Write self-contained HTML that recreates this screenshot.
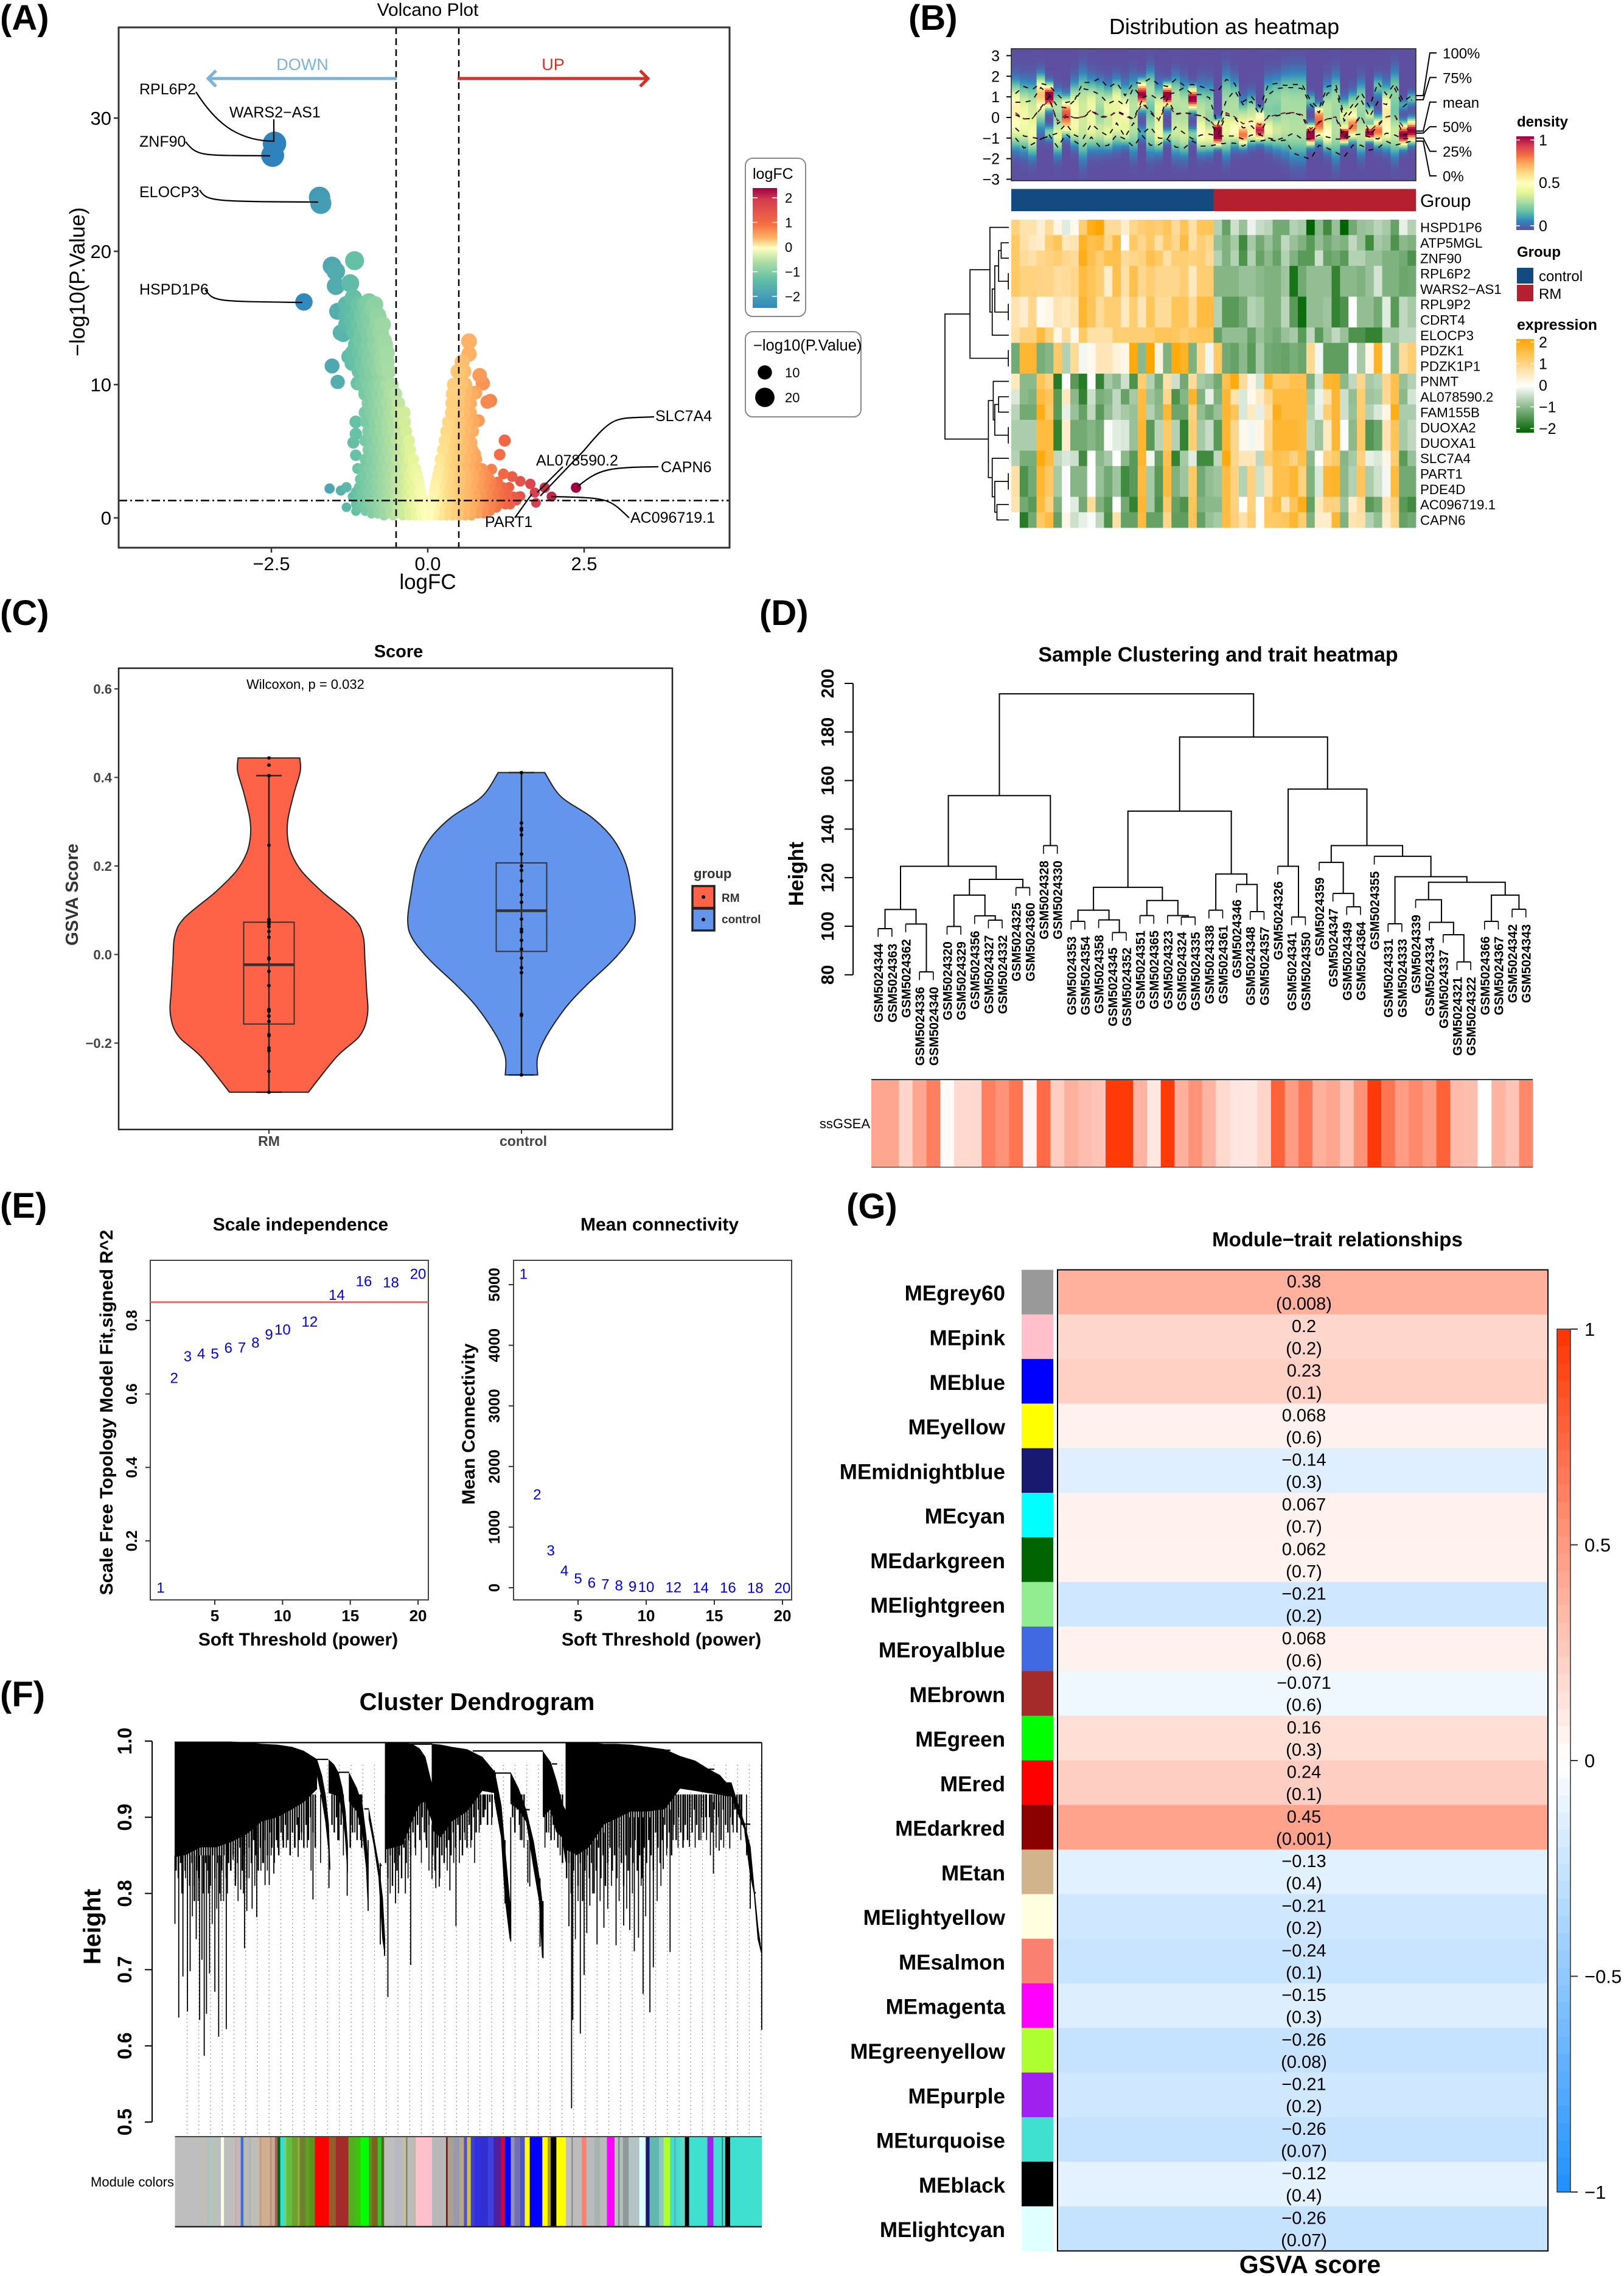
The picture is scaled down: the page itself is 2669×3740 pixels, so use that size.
<!DOCTYPE html>
<html lang="en"><head><meta charset="utf-8"><title>Multi-panel figure</title>
<style>html,body{margin:0;padding:0;background:#fff}svg{display:block;font-family:"Liberation Sans",sans-serif}</style>
</head><body>
<svg id="fig" xmlns="http://www.w3.org/2000/svg" width="2669" height="3740" viewBox="0 0 2669 3740">
<defs>
<linearGradient id="gradLogFC" x1="0" y1="0" x2="0" y2="1"><stop offset="0" stop-color="#9e0142"/><stop offset=".1" stop-color="#d53e4f"/><stop offset=".3" stop-color="#f46d43"/><stop offset=".41" stop-color="#fdae61"/><stop offset=".5" stop-color="#ffffbf"/><stop offset=".62" stop-color="#abdda4"/><stop offset=".75" stop-color="#66c2a5"/><stop offset="1" stop-color="#3288bd"/></linearGradient>
<linearGradient id="gradDensity" x1="0" y1="0" x2="0" y2="1"><stop offset="0" stop-color="#9e0142"/><stop offset=".1" stop-color="#d53e4f"/><stop offset=".2" stop-color="#f46d43"/><stop offset=".3" stop-color="#fdae61"/><stop offset=".4" stop-color="#fee08b"/><stop offset=".5" stop-color="#ffffbf"/><stop offset=".6" stop-color="#e6f598"/><stop offset=".7" stop-color="#abdda4"/><stop offset=".8" stop-color="#66c2a5"/><stop offset=".9" stop-color="#3288bd"/><stop offset="1" stop-color="#5e4fa2"/></linearGradient>
<linearGradient id="gradExpr" x1="0" y1="0" x2="0" y2="1"><stop offset="0" stop-color="#ffa500"/><stop offset=".5" stop-color="#ffffff"/><stop offset="1" stop-color="#006400"/></linearGradient>
</defs>

<g font-size="58" font-weight="bold" fill="#000">
<text x="0" y="49">(A)</text>
<text x="1493" y="49">(B)</text>
<text x="0" y="1027">(C)</text>
<text x="1248" y="1027">(D)</text>
<text x="0" y="2001">(E)</text>
<text x="0" y="2804">(F)</text>
<text x="1391" y="2002">(G)</text>
</g>

<g id="panelA">
<text x="703" y="26" font-size="30" text-anchor="middle">Volcano Plot</text>
<text x="703" y="968" font-size="35" text-anchor="middle">logFC</text>
<text transform="translate(139,463) rotate(-90)" font-size="35" text-anchor="middle">−log10(P.Value)</text>
</g>
<g id="panelB">
<text x="2012" y="56" font-size="36" text-anchor="middle">Distribution as heatmap</text>
<text x="2334" y="340" font-size="30">Group</text>
<text x="2493" y="208" font-size="24" font-weight="bold">density</text>
<rect x="2492" y="224" width="29" height="154" fill="url(#gradDensity)"/>
<text x="2493" y="422" font-size="24" font-weight="bold">Group</text>
<rect x="2493" y="440" width="27" height="26" fill="#134a80"/>
<rect x="2493" y="468" width="27" height="27" fill="#b5202e"/>
<text x="2529" y="462" font-size="24">control</text>
<text x="2529" y="491" font-size="24">RM</text>
<text x="2493" y="542" font-size="25" font-weight="bold">expression</text>
<rect x="2492" y="557" width="29" height="154" fill="url(#gradExpr)"/>
</g>
<g id="panelC">
<text x="655" y="1080" font-size="29" font-weight="bold" text-anchor="middle">Score</text>
<text x="405" y="1132" font-size="22">Wilcoxon, p = 0.032</text>
<text transform="translate(128,1470) rotate(-90)" font-size="29" font-weight="bold" fill="#333" text-anchor="middle">GSVA Score</text>
<text x="1140" y="1443" font-size="22" font-weight="bold" fill="#333">group</text>
</g>
<g id="panelD">
<text x="2002" y="1087" font-size="34" font-weight="bold" text-anchor="middle">Sample Clustering and trait heatmap</text>
<text transform="translate(1320,1436) rotate(-90)" font-size="34" font-weight="bold" text-anchor="middle">Height</text>
<text x="1430" y="1854" font-size="22" text-anchor="end">ssGSEA</text>
</g>
<g id="panelE">
<text x="494" y="2022" font-size="30" font-weight="bold" text-anchor="middle">Scale independence</text>
<text x="1084" y="2022" font-size="30" font-weight="bold" text-anchor="middle">Mean connectivity</text>
<text x="490" y="2704" font-size="30" font-weight="bold" text-anchor="middle">Soft Threshold (power)</text>
<text x="1087" y="2704" font-size="30" font-weight="bold" text-anchor="middle">Soft Threshold (power)</text>
<text transform="translate(185,2321) rotate(-90)" font-size="30" font-weight="bold" text-anchor="middle">Scale Free Topology Model Fit,signed R^2</text>
<text transform="translate(780,2340) rotate(-90)" font-size="30" font-weight="bold" text-anchor="middle">Mean Connectivity</text>
</g>
<g id="panelF">
<text x="784" y="2810" font-size="40" font-weight="bold" text-anchor="middle">Cluster Dendrogram</text>
<text transform="translate(165,3166) rotate(-90)" font-size="40" font-weight="bold" text-anchor="middle">Height</text>
<text x="286" y="3593" font-size="22" text-anchor="end">Module colors</text>
</g>
<g id="panelG">
<text x="2198" y="2048" font-size="33" font-weight="bold" text-anchor="middle">Module−trait relationships</text>
<text x="2153" y="3735" font-size="41" font-weight="bold" text-anchor="middle">GSVA score</text>
</g>
</svg>
<script>
/* ---------- Panel A data ---------- */
const volcanoOutlierLogFC=[-2.45,-2.48,-1.73,-1.71,-1.98,-1.17,-1.53,-1.47,-1.47,-1.24,-1.19,-.94,-1.44,-1.24,-.88,-.79,-1.21,-.99,-1.39,-1.17,-1.08,-.7,-.83,-1.26,-1.53,-1.21,-.94,-1.44,-1.12,-.99,-.72,-.9,-1.05,-.8,-.85,-.95,-.75,-.9,-1.05,-.72,-1.57,-1.39,-1.3,-1.3,-1.15,-1.15,-1.19,-1.15,-1.12,-1.08,-1.15,.66,.66,.5,.54,.83,.88,.76,1,.95,.81,.72,.7,.76,1.23,1.15,1.02,1.21,1.35,1.48,1.64,1.87,1.71,2.37,1.98,1.73,1.48,1.26,1.08,.99];
const volcanoOutlierNegLogP=[28.1,27.2,24.05,23.6,16.2,19.3,18.9,18.5,17.4,17.6,16.5,16.2,15.5,15.6,15.6,15.05,14.8,14.3,13.9,13.9,13.3,13.3,13.1,12.1,11.4,11.6,12,10.2,10.1,10.35,11.2,10.9,11.4,12.5,14,13,12,11.6,13.5,12.2,2.2,2.05,2.3,.8,7.2,6.3,5.65,4.7,3.7,2.9,.5,13.25,12.3,11,10.1,10.7,10.1,9.4,8.8,8.7,7.3,6.5,5.65,4.8,5.8,4.75,3.65,3.3,3.1,2.75,2.55,2.27,1.9,2.27,1.6,1.13,1.63,1.77,2.05,2.9];
const volcanoRowNegLogP=[16,15.2,14.5,13.8,13,12.4,11.7,11,10,9.3,8.6,7.9,7.2,6.5,5.8,5.1,4.4,3.7,3.3,3,2.7,2.3,1.95,1.6,1.3,1,.75,.5,.3,.15];
const volcanoRowLogFC=[
[-1.3,-1.1,-1,-.85],
[-1.3,-1.15,-1.05,-.95,-.8],
[-1.3,-1.1,-1,-.9,-.8,-.72],
[-1.35,-1.15,-1.05,-.95,-.85,-.75],
[-1.15,-1.05,-.95,-.85,-.75,-.68],
[-1.2,-1.1,-1,-.9,-.8,-.7,-.65],
[-1.15,-1.05,-.95,-.85,-.75,-.65,.55],
[-1.1,-1,-.9,-.8,-.7,-.62,.48,.58],
[-1.05,-.95,-.85,-.75,-.65,-.58,.42,.52,.6],
[-1,-.9,-.8,-.7,-.6,-.52,.4,.5,.6,.7],
[-.95,-.85,-.75,-.65,-.55,-.47,.39,.49,.58,.68],
[-1,-.9,-.8,-.7,-.6,-.5,-.42,-.38,.38,.48,.58,.68],
[-.98,-.85,-.75,-.65,-.55,-.45,-.37,.33,.43,.53,.63,.73],
[-.95,-.85,-.75,-.65,-.55,-.45,-.35,.3,.4,.5,.6,.68],
[-1,-.9,-.8,-.7,-.6,-.5,-.4,-.3,.27,.37,.47,.57,.67],
[-.95,-.85,-.75,-.65,-.55,-.45,-.35,-.28,.24,.34,.44,.54,.64,.72],
[-1,-.9,-.8,-.7,-.6,-.5,-.4,-.3,-.23,.2,.3,.4,.5,.6,.7,.78],
[-1.05,-.95,-.85,-.75,-.65,-.55,-.45,-.35,-.25,-.19,.18,.27,.37,.47,.57,.67,.77,.87],
[-1,-.9,-.8,-.7,-.6,-.5,-.4,-.3,-.22,-.17,.16,.24,.32,.42,.52,.62,.72,.82,.92],
[-1,-.9,-.8,-.7,-.6,-.5,-.4,-.3,-.2,-.15,.15,.25,.35,.45,.55,.65,.75,.85,.95],
[-1.05,-.95,-.85,-.75,-.65,-.55,-.45,-.35,-.25,-.14,.13,.22,.32,.42,.52,.62,.72,.82,.92,1.02,1.12],
[-1.1,-1,-.9,-.8,-.7,-.6,-.5,-.4,-.3,-.2,-.12,.11,.2,.3,.4,.5,.6,.7,.8,.9,1,1.1,1.2,1.3],
[-1.15,-1.05,-.95,-.85,-.75,-.65,-.55,-.45,-.35,-.25,-.15,-.1,.1,.16,.25,.35,.45,.55,.65,.75,.85,.95,1.05,1.15,1.25],
[-1.2,-1.1,-1,-.9,-.8,-.7,-.6,-.5,-.4,-.3,-.2,-.09,.08,.17,.27,.37,.47,.57,.67,.77,.87,.97,1.07,1.17,1.27,1.37,1.45],
[-1.15,-1.05,-.95,-.85,-.75,-.65,-.55,-.45,-.35,-.25,-.15,-.07,.07,.14,.22,.32,.42,.52,.62,.72,.82,.92,1.02,1.12,1.22,1.32,1.42],
[-1.15,-1.05,-.95,-.85,-.75,-.65,-.55,-.45,-.35,-.25,-.15,-.06,.06,.14,.24,.34,.44,.54,.64,.74,.84,.94,1.04,1.14,1.24,1.32],
[-1.1,-1,-.9,-.8,-.7,-.6,-.5,-.4,-.3,-.2,-.1,-.05,.05,.12,.2,.3,.4,.5,.6,.7,.8,.9,1,1.1],
[-1,-.9,-.8,-.7,-.6,-.5,-.4,-.3,-.2,-.1,-.04,.04,.1,.2,.3,.4,.5,.6,.7,.8,.9,1],
[-.9,-.8,-.7,-.6,-.5,-.4,-.3,-.2,-.12,-.03,.03,.12,.2,.3,.4,.5,.6,.7,.8,.9],
[-.7,-.55,-.4,-.3,-.2,-.1,-.03,.03,.1,.2,.3,.4,.5,.6,.7]];
const volcanoXTicks=[-2.5,0,2.5];
const volcanoXTickLabels=['−2.5','0.0','2.5'];
const volcanoYTicks=[0,10,20,30];
const logfcLegendTicks=[2,1,0,-1,-2];
const sizeLegendValues=[10,20];
/* ---------- Panel B data ---------- */
const geneNames=['HSPD1P6','ATP5MGL','ZNF90','RPL6P2','WARS2−AS1','RPL9P2','CDRT4','ELOCP3','PDZK1','PDZK1P1','PNMT','AL078590.2','FAM155B','DUOXA2','DUOXA1','SLC7A4','PART1','PDE4D','AC096719.1','CAPN6'];
const exprHSPD1P6=[1,.65,.65,.35,.8,.2,-.25,.15,1.1,1.8,2,.8,.8,.4,.9,1.1,1.2,1.1,1.3,.8,1.3,.7,1.3,1.3,-.6,-1.2,-.4,-.8,-.15,-.45,-.55,-1.1,-1.1,-.6,-.7,-2,-.9,-1.5,-.8,-2,-1.1,-.8,-.75,-.55,-.7,-1.2,-.2,-.6];
const exprATP5MGL=[1.2,.7,.5,.4,1.1,1.3,.5,.6,1.7,1.4,1.5,.9,1.5,.05,1.2,.9,1.2,.7,1.2,.9,1.5,.7,1.1,.9,-.8,-1,-.7,-1.5,-.7,-1.1,-.8,-1.1,-.5,-.8,-1,-1.3,-.85,-1.1,-.9,-1,-.5,-.8,-1.5,-.7,-.8,-1.4,-.9,-1];
const exprZNF90=[1.2,.8,.7,.9,1,1.1,.9,.8,1.8,1.4,1.1,1.4,1.4,.8,.9,1,1.4,1.2,.7,1.1,1.1,1,1.1,.8,-.6,-1,-.6,-1.4,-.6,-1.2,-.9,-1.2,-.6,-1,-1.3,-1.3,-.4,-1.2,-1.1,-1.3,-.6,-.6,-.8,-.8,-1,-1,-1.1,-1.4];
const exprRPL6P2=[1.2,1,1,.95,.95,.75,.8,.9,1.5,1.3,1.1,.4,1.4,.7,1.4,.9,1.1,.9,.9,.9,1.1,.5,1.1,1.1,-.95,-.95,-.95,-.8,-.8,-.9,-1,-1,-.75,-1.8,-1.1,-.85,-.85,-.85,-1.6,-.9,-.9,-1,-.8,-.35,-1,-1,-1.15,-1.1];
const exprRPL9P2=[.6,.4,.9,.1,.2,.6,.5,.65,1.6,1.3,.8,1.1,1.1,.5,1.1,.55,1.3,.8,.8,1.3,1.3,.8,1.5,1.5,-.6,-1.3,-1.3,-1.1,-.6,-.7,-1,-1,-.55,-1.3,-1.9,-.85,-.85,-.75,-1.6,-1.4,0,-.85,-.85,-1.1,-.25,-1.3,-.5,-.7];
const exprELOCP3=[.7,1,1,1.5,1,.2,.8,.15,1.2,.7,.7,.7,1.1,1.1,1.1,1.1,1.1,1.3,1.3,1.25,1.1,1.25,1.3,1.3,-1.2,-.85,-.85,-.85,-1.2,-.8,-1,-1.1,-.8,-.7,-1.3,-.5,-1.3,-.8,-.5,-.8,-1.4,-1.4,-1.6,-1.6,-.7,-.7,-.5,-.5];
const exprPDZK1=[-1.1,1.6,1.6,-1.05,-.95,1.2,-.6,.8,-.1,.15,.55,.55,.3,.2,1.9,-.9,2,.25,-1,1.9,1.7,-1,.9,-.1,1.2,-1.1,-1.2,-.9,-1.3,-.7,-1.1,-1.15,-1.2,-1.05,-1.15,.85,-.1,-1.25,-1.25,-1.25,0,-.7,.2,1.7,-.05,-.9,.8,1.1];
const exprPNMT=[.5,-.9,-.9,1.3,1,-1.7,0,-1.3,-1.7,0,-1.6,-.7,-.9,-.4,-1.4,1.1,-.6,-1.1,.7,-.4,-1.1,.8,-.7,-.8,-1.1,1.4,1.9,.8,.2,-.35,1.6,1.2,1.2,1.4,1.4,-1,-.35,1.6,1.7,-.9,-.5,.9,-.7,-.6,.9,1.4,-.8,-.6];
const exprAL078590=[-.3,-.9,-1,1.5,1.3,-1.3,.5,-.9,-1.6,-.4,-1.05,-.95,-.5,-1.2,-.7,1.5,-.75,-.95,.9,-1.4,-.95,1.7,-1,-.2,-1,1.6,.65,-.3,.15,.45,.9,1.5,1.5,1.5,1.5,-.7,-.15,.7,1.6,-.4,-.85,1.1,-.75,-.7,.85,1.4,-.9,-.35];
const exprFAM155B=[-.55,-1.1,-1.1,1.8,1.2,-1.3,-.2,-.8,-1.2,-.5,-1.3,-.85,-.5,-.7,-.8,1.5,-.6,-.9,1.6,-1.15,-1.15,1,-.85,-1.1,-.8,1.6,1.3,-.3,.5,-.2,.7,1.8,1.5,1.5,1.5,-.6,-.2,1.1,1.6,-.4,-.8,1.1,-.6,-.3,.2,1.8,-.65,-.65];
const exprDUOXA=[-.65,-.65,-.65,1.5,1.5,-1.6,.4,-1.1,-1.1,-.95,-1.1,-.05,-.25,-.3,-.8,1.6,-1.3,-.55,1.2,-.6,-1.6,1.1,-.7,-.45,-1.3,1.6,.9,.15,-.1,.2,.9,1.6,1.6,1.6,1.5,-.5,-.75,.5,1.6,-.05,-.9,1.2,-1.35,-1.15,.6,1.3,-.7,-.5];
const exprSLC7A4=[-.6,-1.05,-1.05,1.9,1.5,-.5,-.3,-.4,-1.5,.05,-.9,-.7,0,-.9,-1.3,1.6,-.1,-1.2,1.4,-1.6,-.7,-.25,-1.5,-1.5,-.5,1.9,.9,.55,.55,-.5,1.1,1.4,1.3,1,1.4,-.9,.05,1,1.2,-.95,-.7,1,-.2,-.3,.2,1.1,-1.3,-.8];
const exprPART1=[.7,-1.4,-1.1,1.6,1.2,-.7,-.05,-.95,-.95,0,-.8,-1.1,-.75,-1.5,-1.3,1.5,-.7,-1.3,1.5,-1,-.75,1.2,-1.1,-.85,-.75,1.5,1,-.6,1,-.4,.6,1.4,1.4,1.6,1,-1,-.3,1.6,1.7,-.9,-.6,1.3,-.65,-.4,-.1,1.5,-1.1,-1.1];
const exprAC096719=[.6,-1.1,-1.3,1.5,1,-1,0,-.25,-1.1,.8,-1,-1.3,0,-1.1,-1.6,1.6,-.7,-1.4,1.2,-1.2,-1.4,1.3,-1,-.9,-.9,1.5,1,.05,1,0,1.2,1.5,.6,1.3,1.8,-1.2,.5,1,1,-.75,.4,.8,-1.3,-1.1,.6,1,-1.3,-1.5];
const exprCAPN6=[0,-1.7,-1.1,1.2,1.5,-1.2,.2,-.4,-.2,-.05,-.5,-1.4,.7,-1.2,-1.2,1.5,-1.2,-1.2,.9,-1.25,-1.25,1.3,-1.2,-.8,-.7,1.5,1.05,.7,1.1,.05,1.2,1.2,1.3,1.6,1.1,-1,.4,.4,1.6,-1,.6,.7,-.6,-.85,.4,.9,-1.2,-1.1];
const exprRows=[exprHSPD1P6,exprATP5MGL,exprZNF90,exprRPL6P2,exprRPL6P2,exprRPL9P2,exprRPL9P2,exprELOCP3,exprPDZK1,exprPDZK1,exprPNMT,exprAL078590,exprFAM155B,exprDUOXA,exprDUOXA,exprSLC7A4,exprPART1,exprPART1,exprAC096719,exprCAPN6];
const geneTree=[5,[3.04,[1.48,0,[1.3,[1.1,[.8,[.6,1,2],[.04,3,4]],[.04,5,6]],7]],[.04,8,9]],[1.6,[1.22,10,[1.1,[.8,11,12],[.04,13,14]]],[1.3,15,[1.1,[.04,16,17],[.93,18,19]]]]];
const quant100=[1.16,1.5,1.36,1.65,1.55,1.11,.72,.82,1.7,1.7,1.9,1.45,1.7,1.06,1.7,1.65,1.9,1.6,1.5,1.85,1.55,1.6,1.5,1.36,1.26,1.85,1.65,.77,1.01,.52,1.6,1.65,1.55,1.6,1.6,.82,.42,1.5,1.6,.08,.62,1.21,.52,1.7,1.11,1.65,.77,1.06];
const quant75=[.74,.74,.82,1.45,1.11,.52,.47,.82,1.4,1.31,1.11,.67,.86,.57,1.45,.96,1.11,.86,1.11,1.21,1.45,1.11,1.11,.96,-.36,.82,1.31,.62,.77,.13,1.11,1.4,1.45,1.45,1.4,.62,.23,1.16,1.36,-.17,.37,.86,.03,.77,.62,1.4,.52,.86];
const quantMean=[.23,-.07,-.05,.42,.86,-.17,.13,-.02,.03,.37,.08,.03,.27,.08,-.12,.67,.32,-.12,.67,.13,.23,.13,.08,-.12,-.56,.23,.03,-.31,-.17,-.36,.03,.13,.23,.23,.13,-.56,-.27,-.07,.03,-.76,-.41,.03,-.66,-.31,.03,.08,-.46,-.66];
const quant50=[.13,-.07,-.05,.47,1.01,-.31,.03,-.02,-.02,.32,.03,.01,.32,.13,-.07,.82,.23,-.15,.91,.18,.23,.18,.08,-.17,-.85,.13,-.02,-.51,-.41,-.85,.08,.08,.18,.23,.08,-.85,-.22,-.07,-.02,-1,-.36,.08,-.85,-.41,.03,.13,-.85,-.76];
const quant25=[-.51,-.9,-.97,-1.05,-.9,-.76,-.31,-.85,-1.05,-.31,-.66,-.9,-.27,-.95,-.27,-.81,-.46,-1,-1.05,-.46,-.76,-1.05,-.85,-.81,-.9,-.9,-.9,-1.05,-.85,-.85,-1,-1.1,-.95,-.76,-1.05,-1.05,-.85,-.95,-1.05,-1.05,-.85,-.81,-.95,-1.05,-.76,-.85,-1.05,-1];
const quant0=[-1,-1.49,-1.3,-1.05,-.85,-1.44,-.81,-1.15,-1.42,-.95,-1.42,-1.35,-.85,-1.05,-1.42,-.85,-1.35,-1.33,-1.05,-1.44,-1.49,-1.15,-1.39,-1.39,-1.3,-1.25,-1.25,-1.39,-1.15,-1.15,-1.07,-1.15,-1.1,-1.74,-1.89,-2.03,-1.35,-1.49,-1.69,-1.92,-1.35,-1.35,-1.59,-1.49,-1.15,-1.35,-1.25,-1.15];
const lobeACenter=[.62,.62,.62,1.21,1.03,.62,.23,.52,.91,.72,.91,.52,.91,.32,.82,1.11,1.31,.52,1.06,1.01,.72,.91,.52,.52,-.66,1.01,.72,-.07,.32,-.61,.82,1.01,1.01,1.01,1.01,-.85,-.36,.52,1.01,-.85,-.46,.72,-.76,-.66,.32,1.21,-.85,-.66];
const lobeAPeak=[.5,.35,.32,.55,1.15,.3,.8,.45,.3,.4,.3,.4,.4,.5,.28,1,.3,.4,1.1,.3,.3,1.05,.3,.28,1.15,.25,.3,.35,.3,.95,.25,.25,.27,.25,.25,1.15,.8,.32,.25,1.15,.75,.28,1.1,.8,.55,.25,1.05,1.05];
const lobeASpread=[.59,.59,.59,.44,.29,.39,.39,.59,.69,.59,.49,.54,.49,.59,.59,.34,.54,.54,.28,.54,.54,.28,.59,.59,.25,.64,.59,.49,.44,.28,.59,.54,.64,.69,.69,.25,.39,.59,.59,.2,.34,.54,.18,.34,.59,.59,.29,.28];
const lobeBCenter=[-.66,-.66,-.85,.32,-.76,-.85,-.46,-.66,-.76,-.66,-.66,-.85,-.46,-.85,-.66,-.76,-.66,-.85,-.9,-.66,-.85,-.85,-.85,-.95,-1.15,-.66,-.66,-.9,-.66,.13,-.66,-.66,-.66,-.76,-.76,.82,.23,-.85,-.76,.13,.52,-.85,.13,1.5,-.85,-.76,.62,.91];
const lobeBPeak=[.33,.35,.4,.25,.25,.4,.3,.3,.3,.35,.35,.35,.4,.25,.28,.15,.3,.4,.3,.35,.35,.25,.45,.4,.5,.4,.45,.65,.5,.4,.42,.35,.3,.28,.28,.2,.3,.45,.3,.4,.3,.33,.35,.2,.3,.35,.15,.2];
const lobeBSpread=[.49,.54,.54,.54,.2,.49,.29,.39,.69,.49,.49,.39,.49,.29,.59,.2,.59,.44,.18,.59,.54,.2,.44,.39,.18,.59,.39,.28,.34,.18,.39,.49,.59,.69,.69,.2,.2,.39,.69,.39,.39,.49,.25,.29,.39,.59,.15,.18];
const densityYTicks=[3,2,1,0,-1,-2,-3];
const quantileLabels=['100%','75%','mean','50%','25%','0%'];
const densityLegendTicks=['1','0.5','0'];
const exprLegendTicks=['2','1','0','−1','−2'];
/* ---------- Panel C data ---------- */
const rmViolinValue=[.444,.414,.366,.309,.269,.229,.188,.14,.083,.043,-.014,-.078,-.135,-.183,-.231,-.311];
const rmViolinDensity=[.313,.318,.256,.195,.187,.226,.333,.549,.856,.954,.974,.99,1,.923,.687,.4];
const controlViolinValue=[.411,.357,.309,.26,.204,.14,.075,.035,-.014,-.07,-.119,-.183,-.231,-.272];
const controlViolinDensity=[.236,.4,.718,.933,1.06,1.118,1.154,1.103,.923,.656,.451,.256,.164,.164];
const rmBox=[-.157,-.023,.073];
const rmWhisker=[-.311,.404];
const controlBox=[.007,.099,.207];
const controlWhisker=[-.272,.411];
const rmScores=[.444,.428,.404,.247,.079,.075,.069,.063,.052,.039,-.008,-.01,-.038,-.07,-.124,-.128,-.139,-.151,-.181,-.183,-.211,-.217,-.264,-.311];
const controlScores=[.411,.297,.285,.281,.27,.227,.2,.19,.166,.135,.118,.08,.057,.051,.032,.012,-.008,-.03,-.041,-.135,-.138,-.272];
const violinYTicks=[.6,.4,.2,0,-.2];
const violinYLabels=['0.6','0.4','0.2','0.0','−0.2'];
/* ---------- Panel D data ---------- */
const sampleIds=[44,63,62,36,40,20,29,56,27,32,25,60,28,30,53,54,58,45,52,51,65,23,24,35,38,61,46,48,57,26,41,50,59,47,49,64,55,31,33,39,34,37,21,22,66,67,42,43];
const sampleTree=[195.7,[153.8,[124.7,[106.9,[99,0,1],[100.9,2,[81.2,3,4]]],[119.3,[112.8,[99.9,5,6],[104.3,7,[102.5,8,9]]],[115.9,10,11]]],[133.2,12,13]],[177.9,[147.4,[116,[106.6,[102,14,15],[102.6,16,[97.4,17,18]]],[110.6,[104.4,19,20],[104.4,21,[103.8,22,23]]]],[121.5,[106.6,24,25],[117.2,26,[106,27,28]]]],[156.5,[124.7,29,[103.8,30,31]],[133.2,[126.3,32,[113.5,33,[108,34,35]]],[128.8,36,[120.4,[101,37,38],[118.1,[110.9,39,[101.6,40,[96.5,41,[85.3,42,43]]]],[112.8,[102,44,45],[107,46,47]]]]]]]]];
const ssgseaValues=[.45,.45,.22,.45,.65,.03,.2,.2,.65,.55,.7,.05,.75,.25,.4,.33,.3,1,1,.38,.12,1,.4,.55,.38,.2,.13,.12,.22,.8,.5,.7,.4,.45,.3,.55,1,.7,.5,.6,.5,.8,.35,.33,0,.38,.3,.6];
const clusterYTicks=[200,180,160,140,120,100,80];
/* ---------- Panel E data ---------- */
const powers=[1,2,3,4,5,6,7,8,9,10,12,14,16,18,20];
const scaleFit=[.074,.645,.704,.711,.711,.727,.728,.741,.763,.777,.798,.871,.908,.905,.928];
const meanConnectivity=[5185,1544,620,292,159,92,67,46,31,20,15,10,8,6,5];
const powerTicks=[5,10,15,20];
const fitTicks=[.2,.4,.6,.8];
const connectivityTicks=[0,1000,2000,3000,4000,5000];
const fitCutoff=.85;
/* ---------- Panel F data ---------- */
const dendroBlockRank=[[12,40,80,120,160,200,240,280,320,350,385],[385,398,408,416,420],[417,430,442,452,460,466],[470,490,505,515,520],[522,535,548,558,564],[565,590,610,635,655,670,688],[688,710,740,780,820,855],[852,870,880,893],[895,915,935],[935,955,970,978],[980,1000,1015,1030,1040],[1040,1070,1100,1140,1170,1210,1255,1300,1340,1380,1415],[1415,1445,1462,1475,1490,1510],[1510,1525,1535,1545,1555]];
const dendroBlockTop=[[.999,.999,.999,.999,.999,.998,.996,.995,.992,.987,.976],[.976,.955,.928,.891,.831],[.975,.969,.958,.938,.908,.864],[.958,.938,.915,.874,.834],[.91,.874,.837,.794,.74],[.998,.998,.998,.996,.99,.979,.942],[.996,.995,.992,.989,.979,.958],[.962,.915,.858,.787],[.958,.938,.91],[.91,.868,.821,.787],[.986,.972,.948,.918,.908],[.998,.998,.998,.996,.996,.995,.992,.989,.98,.974,.963],[.963,.955,.945,.945,.921,.891],[.891,.861,.807,.757,.72]];
const dendroBlockBottom=[[.848,.851,.861,.861,.868,.878,.895,.9,.911,.92,.937],[.958,.925,.895,.858,.831],[.932,.93,.928,.908,.874,.827],[.921,.908,.881,.834,.78],[.898,.864,.821,.74,.72],[.858,.861,.864,.895,.918,.921,.895],[.884,.874,.895,.908,.935,.932],[.925,.874,.794,.74],[.918,.911,.895],[.898,.834,.79,.716],[.901,.911,.881,.874,.841],[.858,.851,.861,.891,.898,.908,.908,.911,.938,.935,.932],[.932,.93,.928,.928,.908,.884],[.881,.824,.8,.74,.72]];
const mergeRankFrom=[12,385,442,510,550,795,855,935,1003,1415,1460,1510,1300,630];
const mergeRankTo=[1555,415,470,522,556,980,895,945,1017,1430,1475,1525,1315,688];
const mergeHeight=[.998,.976,.959,.911,.837,.987,.958,.91,.97,.963,.945,.891,.988,.996];
const spikeRank=[12,22,33,45,52,68,77,83,89,95,103,117,127,133,147,165,185,195,201,215,227,249,260,272,336,375,417,465,520,552,563,572,592,618,632,688,698,707,735,751,880,895,940,945,972,980,1048,1055,1058,1078,1088,1095,1103,1122,1140,1172,1192,1208,1220,1231,1243,1261,1270,1296,1314,1365,1428,1443,1471,1525,1538,1555];
const spikeEnd=[.76,.637,.691,.645,.698,.74,.634,.713,.587,.642,.695,.671,.612,.79,.622,.844,.805,.728,.777,.78,.769,.811,.811,.826,.848,.792,.807,.797,.777,.733,.718,.664,.787,.8,.706,.819,.807,.809,.804,.757,.787,.737,.814,.809,.73,.715,.757,.518,.634,.616,.693,.748,.784,.733,.755,.732,.758,.752,.724,.742,.668,.644,.703,.832,.723,.861,.826,.856,.859,.78,.802,.621];
const spikeStart=[.85,.85,.85,.85,.85,.85,.85,.85,.85,.85,.85,.85,.85,.85,.85,.87,.88,.88,.88,.9,.9,.9,.9,.9,.9,.92,.86,.87,.87,.84,.74,.86,.87,.87,.87,.89,.89,.89,.9,.9,.87,.9,.87,.87,.82,.79,.86,.86,.86,.86,.86,.86,.86,.87,.88,.9,.9,.9,.9,.9,.9,.9,.9,.9,.91,.93,.92,.92,.93,.86,.8,.998];
const minorSpikeRank=[30,40,58,62,73,100,110,122,140,150,158,172,178,192,207,222,238,245,255,265,282,295,305,315,328,345,360,370,395,440,455,475,485,500,578,600,625,645,660,672,680,720,728,745,760,775,790,800,812,825,845,905,920,930,985,995,1010,1025,1065,1072,1110,1130,1150,1160,1180,1200,1215,1238,1250,1280,1290,1305,1322,1335,1350,1380,1395,1410,1420,1435,1455,1480,1500,1515];
const minorSpikeEnd=[.8,.82,.77,.81,.79,.8,.76,.78,.79,.8,.83,.82,.79,.8,.82,.81,.83,.84,.83,.85,.86,.87,.86,.87,.86,.87,.86,.83,.84,.87,.85,.89,.88,.87,.8,.8,.82,.85,.84,.87,.83,.84,.83,.84,.84,.87,.86,.84,.88,.9,.89,.89,.87,.86,.86,.88,.87,.85,.74,.79,.8,.79,.78,.81,.79,.78,.8,.81,.77,.79,.81,.85,.87,.86,.87,.86,.87,.87,.85,.86,.86,.88,.87,.85];
const raggedLeftRank=[15,21,27,33,39,45,51,57,63,69,75,81,87,93,99,105,111,117,123,129,135,141,147,153,159,165,171,177,183,189,195,201,207,213,219,225,231,237,243,249,255,261,267,273,279,285,291,297,303,309,315,321,327,333,339,345,351,357,363,369,375,381];
const raggedLeftEnd=[.83,.82,.84,.8,.83,.85,.81,.84,.79,.83,.82,.85,.8,.84,.83,.81,.85,.82,.84,.8,.83,.85,.82,.84,.83,.85,.81,.84,.86,.83,.85,.82,.86,.84,.87,.85,.83,.86,.84,.87,.85,.88,.86,.84,.87,.85,.88,.86,.89,.87,.85,.88,.86,.89,.87,.88,.86,.89,.87,.9,.88,.86];
const raggedMidRank=[425,431,437,443,449,473,479,491,497,503,566,572,578,584,590,596,602,608,614,620,626,632,638,644,650,656,662,668,674,680,690,696,702,708,714,720,726,732,738,744,750,756,762,768,774,780,786,792,798,804,810,816,822,828,834,840,846,900,906,912,918,924,930,983,989,995,1001,1007,1013,1019,1025,1031];
const raggedMidEnd=[.89,.88,.9,.87,.89,.86,.88,.87,.89,.86,.84,.82,.85,.81,.84,.83,.85,.82,.86,.84,.87,.85,.88,.86,.89,.87,.9,.88,.86,.89,.85,.83,.86,.82,.85,.84,.86,.87,.85,.88,.86,.89,.87,.85,.88,.86,.89,.87,.9,.88,.91,.89,.9,.91,.89,.92,.9,.9,.88,.91,.89,.87,.9,.9,.88,.91,.87,.89,.9,.86,.88,.84];
const raggedRightRank=[1042,1048,1054,1060,1066,1072,1078,1084,1090,1096,1102,1108,1114,1120,1126,1132,1138,1144,1150,1156,1162,1168,1174,1180,1186,1192,1198,1204,1210,1216,1222,1228,1234,1240,1246,1252,1258,1264,1270,1276,1282,1288,1294,1300,1306,1312,1318,1324,1330,1336,1342,1348,1354,1360,1366,1372,1378,1384,1390,1396,1402,1408,1418,1424,1430,1436,1442,1448,1454,1460,1466,1472,1478,1484,1490,1496,1502];
const raggedRightEnd=[.82,.84,.8,.83,.85,.81,.84,.79,.83,.85,.82,.84,.8,.83,.86,.82,.85,.81,.84,.86,.83,.85,.82,.86,.84,.81,.85,.83,.86,.84,.87,.83,.85,.82,.86,.84,.87,.85,.83,.88,.86,.84,.87,.89,.86,.88,.85,.89,.87,.9,.88,.86,.89,.87,.9,.88,.91,.89,.87,.9,.88,.9,.9,.88,.91,.89,.9,.87,.91,.89,.88,.9,.89,.91,.88,.9,.89];
const moduleStripStart=[12,85,88,98,101,112,114,133,141,170,173,185,192,195,207,212,234,240,262,266,275,282,289,299,305,320,335,340,355,365,380,417,435,468,485,500,522,530,545,555,562,590,612,620,623,640,645,688,725,729,745,760,772,780,790,800,815,835,850,870,880,895,905,920,932,945,978,992,1000,1015,1040,1055,1058,1082,1094,1115,1130,1148,1168,1178,1181,1190,1205,1233,1250,1260,1285,1297,1314,1325,1329,1340,1353,1364,1412,1428,1450,1453,1459,1472];
const moduleStripColor=['#bebebe','#c8bfa0','#bebebe','#b0c0b0','#aec4c8','#d0c090','#b8c0c4','#ffffe0','#bebebe','#e0a0a0','#c0b8b8','#4169e1','#a0c0a0','#bcb8b8','#a8b8b0','#c0bcb8','#c8a080','#d0ae90','#b89080','#c8a890','#a06060','#006400','#30e0e0','#80d060','#60c040','#70a030','#90b040','#708030','#60a020','#609020','#ff0000','#90602a','#a52a2a','#50b020','#40c010','#00ff00','#609020','#806020','#20d020','#606020','#bebebe','#b8b8c0','#c8c090','#707070','#bcbcbc','#c0b8a0','#ffc0cb','#b8b8b8','#8b0000','#a8a090','#9898b0','#b8a880','#5050d0','#d0c040','#4040c0','#3030e0','#3030d0','#4040e0','#5020a0','#e00030','#0000ff','#9090c0','#7070b0','#5050d0','#ffff00','#0000ff','#ffff00','#b0a000','#000000','#ffff00','#c0c0c0','#808080','#bcbcbc','#fa8072','#b8bcbc','#a8b4b0','#b8bcbc','#ff00ff','#b8c0c0','#708080','#b0c0c0','#909898','#b4c4c4','#e0ffff','#191970','#60b8b0','#8ec8c0','#adff2f','#40e0d0','#60b0a8','#40e0d0','#60d8c8','#000000','#40e0d0','#a020f0','#40e0d0','#308080','#40e0d0','#000000','#40e0d0'];
const dendroYTicks=[1,.9,.8,.7,.6,.5];
/* ---------- Panel G data ---------- */
const moduleNames=['MEgrey60','MEpink','MEblue','MEyellow','MEmidnightblue','MEcyan','MEdarkgreen','MElightgreen','MEroyalblue','MEbrown','MEgreen','MEred','MEdarkred','MEtan','MElightyellow','MEsalmon','MEmagenta','MEgreenyellow','MEpurple','MEturquoise','MEblack','MElightcyan'];
const moduleColors=['#999999','#ffc0cb','#0000ff','#ffff00','#191970','#00ffff','#006400','#90ee90','#4169e1','#a52a2a','#00ff00','#ff0000','#8b0000','#d2b48c','#ffffe0','#fa8072','#ff00ff','#adff2f','#a020f0','#40e0d0','#000000','#e0ffff'];
const moduleCor=[.38,.2,.23,.068,-.14,.067,.062,-.21,.068,-.071,.16,.24,.45,-.13,-.21,-.24,-.15,-.26,-.21,-.26,-.12,-.26];
const modulePval=['0.008','0.2','0.1','0.6','0.3','0.7','0.7','0.2','0.6','0.6','0.3','0.1','0.001','0.4','0.2','0.1','0.3','0.08','0.2','0.07','0.4','0.07'];
const corBarTicks=[1,.5,0,-.5,-1];
const corBarLabels=['1','0.5','0','−0.5','−1'];

/* ---------- helpers ---------- */
const NS='http://www.w3.org/2000/svg';
function mk(parent,tag,attrs,name){
  const el=document.createElementNS(NS,tag);
  for(const k in attrs) el.setAttribute(k,attrs[k]);
  
  
  parent.appendChild(el);
  return el;
}
function txt(parent,x,y,s,size,name,opt){
  opt=opt||{};
  const a={x:x,y:y,'font-size':size,'text-anchor':opt.anchor||'start',fill:opt.fill||'#000'};
  if(opt.weight) a['font-weight']=opt.weight;
  if(opt.rot!==undefined){a.transform='rotate('+opt.rot+' '+x+' '+y+')';}
  const el=mk(parent,'text',a,name);
  el.textContent=s;
  return el;
}
function line(parent,x1,y1,x2,y2,stroke,w,name,dash){
  const a={x1:x1,y1:y1,x2:x2,y2:y2,stroke:stroke,'stroke-width':w};
  if(dash) a['stroke-dasharray']=dash;
  return mk(parent,'line',a,name);
}
function path(parent,d,stroke,w,name,fill){
  return mk(parent,'path',{d:d,stroke:stroke,'stroke-width':w,fill:fill||'none'},name);
}
function hex(c){return [parseInt(c.slice(1,3),16),parseInt(c.slice(3,5),16),parseInt(c.slice(5,7),16)];}
function ramp(stops,cols,v){
  if(v<=stops[0]) return cols[0];
  for(let i=1;i<stops.length;i++){
    if(v<=stops[i]){
      const t=(v-stops[i-1])/(stops[i]-stops[i-1]),a=hex(cols[i-1]),b=hex(cols[i]);
      return 'rgb('+Math.round(a[0]+(b[0]-a[0])*t)+','+Math.round(a[1]+(b[1]-a[1])*t)+','+Math.round(a[2]+(b[2]-a[2])*t)+')';
    }
  }
  return cols[cols.length-1];
}
function smooth(pts){
  let d='M'+pts[0][0]+' '+pts[0][1];
  for(let i=0;i<pts.length-1;i++){
    const p0=pts[Math.max(0,i-1)],p1=pts[i],p2=pts[i+1],p3=pts[Math.min(pts.length-1,i+2)];
    d+=' C'+(p1[0]+(p2[0]-p0[0])/6).toFixed(1)+' '+(p1[1]+(p2[1]-p0[1])/6).toFixed(1)+','+(p2[0]-(p3[0]-p1[0])/6).toFixed(1)+' '+(p2[1]-(p3[1]-p1[1])/6).toFixed(1)+','+p2[0].toFixed(1)+' '+p2[1].toFixed(1);
  }
  return d;
}
const gA=document.getElementById('panelA'),gB=document.getElementById('panelB'),gC=document.getElementById('panelC'),gD=document.getElementById('panelD'),gE=document.getElementById('panelE'),gF=document.getElementById('panelF'),gG=document.getElementById('panelG');

/* ---------- Panel A ---------- */
(function(){
  const xS=v=>703+v*102.8, yS=v=>851-v*21.9, rS=v=>7.5+.42*v;
  const col=v=>ramp([-2.5,-2,-1.15,-.6,-.25,0,.25,.7,1.15,1.75,2.37],['#2f82bd','#3288bd','#66c2a5','#abdda4','#e6f598','#ffffbf','#fee08b','#fdae61','#f46d43','#d53e4f','#9e0142'],v);
  const pts=[];
  volcanoOutlierLogFC.forEach((x,i)=>pts.push([x,volcanoOutlierNegLogP[i]]));
  volcanoRowLogFC.forEach((row,i)=>row.forEach(x=>pts.push([x,volcanoRowNegLogP[i]])));
  pts.sort((a,b)=>Math.abs(b[0])-Math.abs(a[0]));
  pts.forEach(p=>{
    mk(gA,'circle',{cx:xS(p[0]),cy:yS(p[1]),r:rS(p[1]),fill:col(p[0])},'volcano-point');
  });
  line(gA,651,45,651,900,'#000',2.5,'threshold-line-down','11 7');
  line(gA,754,45,754,900,'#000',2.5,'threshold-line-up','11 7');
  line(gA,195,yS(1.3),1199,yS(1.3),'#000',2.5,'p-value-threshold-line','14 5 3 5');
  mk(gA,'rect',{x:195,y:45,width:1004,height:855,fill:'none',stroke:'#333','stroke-width':3},'volcano-plot-border');
  volcanoXTicks.forEach((t,i)=>{
    line(gA,xS(t),900,xS(t),908,'#333',2.5,'volcano-x-tick');
    txt(gA,xS(t),937,volcanoXTickLabels[i],31,'volcano-x-tick-label',{anchor:'middle'});
  });
  volcanoYTicks.forEach(t=>{
    line(gA,187,yS(t),195,yS(t),'#333',2.5,'volcano-y-tick');
    txt(gA,183,yS(t)+11,String(t),31,'volcano-y-tick-label',{anchor:'end'});
  });
  path(gA,'M652 129H342 M355 116L342 129L355 142','#7ab2d9',5,'down-arrow');
  txt(gA,497,115,'DOWN',27,'down-label',{anchor:'middle',fill:'#7ab2d9'});
  path(gA,'M752 129H1063 M1052 116L1065 129L1052 142','#d73027',5,'up-arrow');
  txt(gA,909,115,'UP',27,'up-label',{anchor:'middle',fill:'#d73027'});
  [['RPL6P2',229,155,'M322 151C350 195 385 232 451 232'],['WARS2−AS1',377,193,'M450 196V231'],['ZNF90',229,241,'M305 233C325 258 330 255 444 256'],['ELOCP3',229,324,'M328 312C340 331 345 331 523 332'],['HSPD1P6',229,484,'M337 476C352 496 352 495 497 497'],['SLC7A4',1077,692,'M1075 685C1010 688 1010 680 960 740L888 815'],['AL078590.2',881,765,'M925 767L883 809'],['CAPN6',1086,776,'M1082 767C1000 768 985 770 950 799'],['AC096719.1',1036,859,'M906 816C1000 818 1000 818 1034 851'],['PART1',797,866,'M874 812L846 851']].forEach(a=>{
    txt(gA,a[1],a[2],a[0],25,'gene-label-'+a[0]);
    path(gA,a[3],'#000',2.2,'gene-connector-'+a[0]);
  });
  mk(gA,'rect',{x:1225,y:260,width:99,height:260,rx:12,fill:'#fff',stroke:'#888','stroke-width':2},'logfc-legend-box');
  txt(gA,1237,294,'logFC',25,'logfc-legend-title');
  mk(gA,'rect',{x:1237,y:309,width:40,height:197,fill:'url(#gradLogFC)'},'logfc-colorbar');
  logfcLegendTicks.forEach(t=>{
    const y=406-t*40.5;
    line(gA,1237,y,1245,y,'#fff',1.5,'logfc-legend-tick');
    line(gA,1269,y,1277,y,'#fff',1.5,'logfc-legend-tick');
    txt(gA,1290,y+8,t<0?'−'+(-t):String(t),22,'logfc-legend-label');
  });
  mk(gA,'rect',{x:1225,y:545,width:190,height:140,rx:12,fill:'#fff',stroke:'#888','stroke-width':2},'size-legend-box');
  txt(gA,1238,576,'−log10(P.Value)',25.5,'size-legend-title');
  sizeLegendValues.forEach((v,i)=>{
    mk(gA,'circle',{cx:1257,cy:612+i*41,r:rS(v),fill:'#000'},'size-legend-dot');
    txt(gA,1290,620+i*41,String(v),22,'size-legend-label');
  });
})();

/* ---------- Panel B ---------- */
(function(){
  const L=1662,W=665,cw=W/48,yD=v=>193-v*33.85,spreadWiden=1.2;
  const spectral=v=>ramp([0,.1,.2,.3,.4,.5,.6,.7,.8,.9,1],['#5e4fa2','#3288bd','#66c2a5','#abdda4','#e6f598','#ffffbf','#fee08b','#fdae61','#f46d43','#d53e4f','#9e0142'],v);
  const ga=mk(gB,'g',{},'density-heatmap');
  for(let c=0;c<48;c++){
    for(let b=0;b<64;b++){
      const vTop=3.34-b*.1,v=vTop-.05;
      const d=lobeAPeak[c]*Math.exp(-.5*Math.pow((v-lobeACenter[c])/(lobeASpread[c]*spreadWiden),2))+lobeBPeak[c]*Math.exp(-.5*Math.pow((v-lobeBCenter[c])/(lobeBSpread[c]*spreadWiden),2));
      mk(ga,'rect',{x:(L+c*cw).toFixed(2),y:yD(vTop).toFixed(2),width:(cw+.4).toFixed(2),height:3.85,fill:spectral(d)},'density-cell');
    }
  }
  const qs=[quant100,quant75,quant50,quant25,quant0];
  qs.forEach(q=>{
    const d=q.map((v,i)=>(i?'L':'M')+(L+(i+.5)*cw).toFixed(1)+' '+yD(v).toFixed(1)).join(' ');
    path(gB,d,'#000',1.8,'density-quantile-line').setAttribute('stroke-dasharray','8 9');
  });
  const dm=quantMean.map((v,i)=>(i?'L':'M')+(L+(i+.5)*cw).toFixed(1)+' '+yD(v).toFixed(1)).join(' ');
  path(gB,dm,'#7a1020',1.8,'density-mean-line').setAttribute('stroke-dasharray','8 7');
  mk(gB,'rect',{x:L,y:80,width:W,height:217,fill:'none',stroke:'#222','stroke-width':1.5},'density-border');
  densityYTicks.forEach(t=>{
    line(gB,1654,yD(t),L,yD(t),'#000',2,'density-y-tick');
    txt(gB,1643,yD(t)+9,t<0?'−'+(-t):String(t),25,'density-y-label',{anchor:'end'});
  });
  [quant100,quant75,quantMean,quant50,quant25,quant0].forEach((q,i)=>{
    const ly=87+i*40.4,ey=yD(q[47]);
    path(gB,'M'+(L+W)+' '+ey+'L2339 '+ey+'L2350 '+ly+'L2361 '+ly,'#000',2,'quantile-connector');
    txt(gB,2371,ly+9,quantileLabels[i],24,'quantile-label');
  });
  mk(gB,'rect',{x:L,y:310.5,width:W/2,height:36.5,fill:'#134a80'},'group-bar-control');
  mk(gB,'rect',{x:L+W/2,y:310.5,width:W/2,height:36.5,fill:'#b5202e'},'group-bar-rm');
  const exprCol=v=>ramp([-2,0,2],['#006400','#ffffff','#ffa500'],v);
  const T=361,rh=25.3;
  const gh=mk(gB,'g',{},'expression-heatmap');
  exprRows.forEach((row,r)=>{
    row.forEach((v,c)=>{
      mk(gh,'rect',{x:(L+c*cw).toFixed(2),y:(T+r*rh).toFixed(2),width:(cw+.4).toFixed(2),height:(rh+.4).toFixed(2),fill:exprCol(v)},'expression-cell');
    });
    txt(gB,2334,T+(r+.5)*rh+8,geneNames[r],22.3,'gene-row-label');
  });
  const xH=h=>1658-h*21;
  function draw(n){
    if(typeof n==='number') return {x:1658,y:T+(n+.5)*rh};
    const a=draw(n[1]),b=draw(n[2]),x=xH(n[0]),y=(a.y+b.y)/2;
    path(gB,'M'+a.x+' '+a.y+'H'+x+'V'+b.y+'H'+b.x,'#000',1.7,'gene-dendrogram-branch');
    return {x:x,y:y};
  }
  draw(geneTree);
  densityLegendTicks.forEach((s,i)=>{
    const y=[230,300,371][i];
    line(gB,2492,y,2498,y,'#fff',1.5,'density-legend-tick');
    line(gB,2515,y,2521,y,'#fff',1.5,'density-legend-tick');
    txt(gB,2529,y+9,s,25,'density-legend-label');
  });
  exprLegendTicks.forEach((s,i)=>{
    const y=562+i*35.5;
    line(gB,2492,y,2498,y,'#fff',1.5,'expression-legend-tick');
    line(gB,2515,y,2521,y,'#fff',1.5,'expression-legend-tick');
    txt(gB,2529,y+9,s,25,'expression-legend-label');
  });
})();

/* ---------- Panel C ---------- */
(function(){
  const yS=v=>1568.5-v*727.5,maxW=162;
  function violin(cx,vals,dens,fill,box,wh,scores,nm){
    const right=vals.map((v,i)=>[cx+dens[i]*maxW,yS(v)]);
    const left=vals.map((v,i)=>[cx-dens[i]*maxW,yS(v)]).reverse();
    const d=smooth(right)+' L'+left[0][0]+' '+left[0][1]+' '+smooth(left).replace(/^M[^C]*/,'')+' Z';
    path(gC,d,'#222',2,nm+'-violin',fill);
    line(gC,cx,yS(wh[0]),cx,yS(wh[1]),'#222',2.4,nm+'-whisker');
    line(gC,cx-21,yS(wh[1]),cx+21,yS(wh[1]),'#222',2.4,nm+'-whisker-cap');
    line(gC,cx-21,yS(wh[0]),cx+21,yS(wh[0]),'#222',2.4,nm+'-whisker-cap');
    mk(gC,'rect',{x:cx-41.5,y:yS(box[2]),width:83,height:yS(box[0])-yS(box[2]),fill:fill,stroke:'#333','stroke-width':2},nm+'-box');
    line(gC,cx,yS(wh[0]),cx,yS(wh[1]),'#222',2.4,nm+'-whisker');
    line(gC,cx-41.5,yS(box[1]),cx+41.5,yS(box[1]),'#333',4.5,nm+'-median');
    scores.forEach(s=>{
      mk(gC,'ellipse',{cx:cx,cy:yS(s),rx:3,ry:2.8,fill:'#000'},nm+'-score-point');
    });
  }
  violin(442,rmViolinValue,rmViolinDensity,'#ff6347',rmBox,rmWhisker,rmScores,'rm');
  violin(857,controlViolinValue,controlViolinDensity,'#6495ed',controlBox,controlWhisker,controlScores,'control');
  mk(gC,'path',{d:'M195 1098H1105V1856H195Z',fill:'none',stroke:'#222','stroke-width':2.5},'violin-plot-border');
  violinYTicks.forEach((t,i)=>{
    line(gC,188,yS(t),195,yS(t),'#333',2,'violin-y-tick');
    txt(gC,184,yS(t)+8,violinYLabels[i],22,'violin-y-label',{anchor:'end',weight:'bold',fill:'#444'});
  });
  [[442,'RM'],[860,'control']].forEach(a=>{
    line(gC,a[0]===860?857:442,1856,a[0]===860?857:442,1863,'#333',2,'violin-x-tick');
    txt(gC,a[0],1883,a[1],23,'violin-x-label',{anchor:'middle',weight:'bold',fill:'#444'});
  });
  [[1456,'#ff6347','RM',1482],[1493,'#6495ed','control',1517]].forEach(a=>{
    mk(gC,'rect',{x:1138,y:a[0],width:36,height:36,fill:a[1],stroke:'#222','stroke-width':3.5},'violin-legend-key');
    mk(gC,'circle',{cx:1156,cy:a[0]+18,r:3,fill:'#000'},'violin-legend-dot');
    txt(gC,1186,a[3],a[2],19,'violin-legend-label',{weight:'bold',fill:'#333'});
  });
})();

/* ---------- Panel D ---------- */
(function(){
  const yS=h=>1123+(200-h)*3.99,xS=i=>1443.2+i*22.65;
  function draw(n,parentY){
    if(typeof n==='number'){
      const x=xS(n);
      line(gD,x,parentY,x,parentY+13.5,'#000',1.6,'sample-leaf-branch');
      txt(gD,x+8,parentY+24.6,'GSM50243'+sampleIds[n],21,'sample-label',{anchor:'end',weight:'bold',rot:-90});
      return {x:x,y:parentY};
    }
    const y=yS(n[0]);
    const a=draw(n[1],y),b=draw(n[2],y);
    const ay=typeof n[1]==='number'?y:a.y,by=typeof n[2]==='number'?y:b.y;
    path(gD,'M'+a.x+' '+ay+'V'+y+'H'+b.x+'V'+by,'#000',2,'sample-dendrogram-branch');
    return {x:(a.x+b.x)/2,y:y};
  }
  draw(sampleTree,yS(195.7));
  line(gD,1402,yS(200),1402,yS(80),'#000',2,'clustering-y-axis');
  clusterYTicks.forEach(t=>{
    line(gD,1388,yS(t),1402,yS(t),'#000',2,'clustering-y-tick');
    txt(gD,1370,yS(t),String(t),29,'clustering-y-label',{anchor:'middle',rot:-90,weight:'bold'});
  });
  const col=v=>ramp([0,1],['#ffffff','#ff3a08'],v);
  ssgseaValues.forEach((v,i)=>{
    mk(gD,'rect',{x:(1432+i*22.65).toFixed(2),y:1774,width:23,height:144,fill:col(v)},'ssgsea-cell');
  });
  line(gD,1432,1774,2519,1774,'#333',2,'ssgsea-top-border');
  line(gD,1432,1918,2519,1918,'#555',1.5,'ssgsea-bottom-border');
})();

/* ---------- Panel E ---------- */
(function(){
  const xL=p=>353+(p-5)*22.27,yL=v=>2532-(v-.2)*603.5;
  const xR=p=>950+(p-5)*22.4,yR=v=>2609-v*.0996;
  mk(gE,'rect',{x:247,y:2071,width:457,height:558,fill:'none',stroke:'#444','stroke-width':2},'scale-plot-border');
  mk(gE,'rect',{x:844,y:2071,width:457,height:558,fill:'none',stroke:'#444','stroke-width':2},'connectivity-plot-border');
  line(gE,247,yL(fitCutoff),704,yL(fitCutoff),'#e0706a',3,'scale-cutoff-line');
  powers.forEach((p,i)=>{
    txt(gE,xL(p),yL(scaleFit[i])+9,String(p),24,'scale-power-point',{anchor:'middle',fill:'#0000e6'});
    txt(gE,xR(p),yR(meanConnectivity[i])+9,String(p),24,'connectivity-power-point',{anchor:'middle',fill:'#0000e6'});
  });
  powerTicks.forEach(t=>{
    line(gE,xL(t),2629,xL(t),2637,'#333',2,'scale-x-tick');
    txt(gE,xL(t),2664,String(t),26,'scale-x-label',{anchor:'middle',weight:'bold'});
    line(gE,xR(t),2629,xR(t),2637,'#333',2,'connectivity-x-tick');
    txt(gE,xR(t),2664,String(t),26,'connectivity-x-label',{anchor:'middle',weight:'bold'});
  });
  fitTicks.forEach(t=>{
    line(gE,239,yL(t),247,yL(t),'#333',2,'scale-y-tick');
    txt(gE,225,yL(t),t.toFixed(1),25,'scale-y-label',{anchor:'middle',weight:'bold',rot:-90});
  });
  connectivityTicks.forEach(t=>{
    line(gE,836,yR(t),844,yR(t),'#333',2,'connectivity-y-tick');
    txt(gE,821,yR(t),String(t),25,'connectivity-y-label',{anchor:'middle',weight:'bold',rot:-90});
  });
})();

/* ---------- Panel F ---------- */
(function(){
  const xS=r=>280+r*.625,yS=h=>2861+(1-h)*1252;
  for(let k=0;k<50;k++){
    const x=xS(44+30.8*k);
    line(gF,x,2900,x,3506,'#777',1.3,'dendrogram-drop-line','1.5 5');
  }
  dendroBlockRank.forEach((rk,b)=>{
    const top=rk.map((r,i)=>xS(r).toFixed(1)+','+yS(dendroBlockTop[b][i]).toFixed(1));
    const bot=rk.map((r,i)=>xS(r).toFixed(1)+','+yS(dendroBlockBottom[b][i]).toFixed(1)).reverse();
    mk(gF,'polygon',{points:top.concat(bot).join(' '),fill:'#000',stroke:'#000','stroke-width':1},'dendrogram-cluster-block');
  });
  spikeRank.forEach((r,i)=>{
    line(gF,xS(r),yS(spikeStart[i]),xS(r),yS(spikeEnd[i]),'#000',1.8,'dendrogram-long-branch');
  });
  minorSpikeRank.forEach((r,i)=>{
    line(gF,xS(r),yS(.93),xS(r),yS(minorSpikeEnd[i]),'#000',1.6,'dendrogram-short-branch');
  });
  [[raggedLeftRank,raggedLeftEnd],[raggedMidRank,raggedMidEnd],[raggedRightRank,raggedRightEnd]].forEach(pair=>{
    pair[0].forEach((r,i)=>{
      line(gF,xS(r),yS(.93),xS(r),yS(pair[1][i]),'#000',2.4,'dendrogram-ragged-branch');
    });
  });
  mergeRankFrom.forEach((r,i)=>{
    line(gF,xS(r),yS(mergeHeight[i]),xS(mergeRankTo[i]),yS(mergeHeight[i]),'#000',2.2,'dendrogram-merge');
  });
  line(gF,250,yS(1),250,yS(.5),'#000',2,'dendrogram-y-axis');
  dendroYTicks.forEach(t=>{
    line(gF,238,yS(t),250,yS(t),'#000',2,'dendrogram-y-tick');
    txt(gF,216,yS(t),t.toFixed(1),32,'dendrogram-y-label',{anchor:'middle',weight:'bold',rot:-90});
  });
  moduleStripStart.forEach((s,i)=>{
    const e=i+1<moduleStripStart.length?moduleStripStart[i+1]:1555;
    mk(gF,'rect',{x:xS(s).toFixed(2),y:3511,width:((e-s)*.625+.4).toFixed(2),height:148,fill:moduleStripColor[i]},'module-color-segment');
  });
  line(gF,287.5,3511,1252,3511,'#444',2,'module-strip-top-border');
  line(gF,287.5,3659,1252,3659,'#222',2.5,'module-strip-bottom-border');
})();

/* ---------- Panel G ---------- */
(function(){
  const T=2086.6,rh=73.28;
  const col=v=>ramp([-1,0,1],['#1e90ff','#ffffff','#ff3300'],v);
  moduleNames.forEach((n,i)=>{
    const y=T+i*rh;
    mk(gG,'rect',{x:1679,y:y,width:52,height:rh+.4,fill:moduleColors[i]},'module-swatch-'+n);
    mk(gG,'rect',{x:1738,y:y,width:806,height:rh+.4,fill:col(moduleCor[i])},'module-cell-'+n);
    txt(gG,1652,y+rh/2+14,n,35,'module-label-'+n,{anchor:'end',weight:'bold'});
    txt(gG,2143,y+29,String(moduleCor[i]).replace('-','−'),29,'module-correlation-'+n,{anchor:'middle'});
    txt(gG,2143,y+65.5,'('+modulePval[i]+')',29,'module-pvalue-'+n,{anchor:'middle'});
  });
  mk(gG,'rect',{x:1738,y:T,width:806,height:rh*22,fill:'none',stroke:'#000','stroke-width':2},'module-heatmap-border');
  const yB=v=>2893-v*709;
  for(let b=0;b<50;b++){
    const top=1-b*.04;
    mk(gG,'rect',{x:2559,y:yB(top).toFixed(2),width:22,height:29,fill:col(top-.02)},'correlation-colorbar-band');
  }
  mk(gG,'rect',{x:2559,y:yB(1),width:22,height:yB(-1)-yB(1),fill:'none',stroke:'#333','stroke-width':1.5},'correlation-colorbar-border');
  corBarTicks.forEach((t,i)=>{
    line(gG,2581,yB(t),2593,yB(t),'#333',2,'correlation-colorbar-tick');
    txt(gG,2604,yB(t)+11,corBarLabels[i],31,'correlation-colorbar-label');
  });
})();
</script>
</body></html>
